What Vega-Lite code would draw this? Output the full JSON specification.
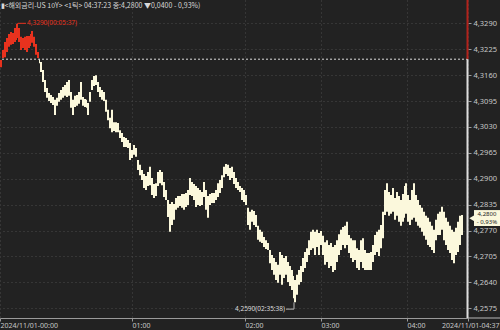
{
  "$schema": "https://vega.github.io/schema/vega-lite/v6.json",
  "width": 468,
  "height": 318,
  "autosize": "none",
  "padding": {"left": 0, "top": 0, "right": 32, "bottom": 12},
  "background": "#222222",
  "config": {
    "view": {"stroke": null},
    "font": "Noto Sans CJK KR",
    "text": {"font": "Noto Sans CJK KR"},
    "axis": {"labelOverlap": false}
  },
  "title": {
    "text": "▮<해외금리-US 10Y> <1틱> 04:37:23 종:4,2800 ▼0,0400  - 0,93%)",
    "anchor": "start",
    "orient": "top",
    "offset": 0,
    "dy": 10,
    "dx": 1,
    "fontSize": 7,
    "fontWeight": "normal",
    "color": "#d8d8d8",
    "font": "Noto Sans CJK KR"
  },
  "datasets": {
    "band": [
      {"n":0,"hi":4.3198,"lo":4.3180,"side":"up"},
      {"n":2,"hi":4.3223,"lo":4.3203,"side":"up"},
      {"n":4,"hi":4.3243,"lo":4.3205,"side":"up"},
      {"n":6,"hi":4.3253,"lo":4.3218,"side":"up"},
      {"n":8,"hi":4.3263,"lo":4.3231,"side":"up"},
      {"n":10,"hi":4.3268,"lo":4.3236,"side":"up"},
      {"n":12,"hi":4.3266,"lo":4.3238,"side":"up"},
      {"n":14,"hi":4.3278,"lo":4.3243,"side":"up"},
      {"n":16,"hi":4.3288,"lo":4.3248,"side":"up"},
      {"n":17,"hi":4.3290,"lo":4.3253,"side":"up"},
      {"n":18,"hi":4.3278,"lo":4.3243,"side":"up"},
      {"n":20,"hi":4.3256,"lo":4.3223,"side":"up"},
      {"n":22,"hi":4.3253,"lo":4.3228,"side":"up"},
      {"n":24,"hi":4.3256,"lo":4.3223,"side":"up"},
      {"n":26,"hi":4.3258,"lo":4.3218,"side":"up"},
      {"n":28,"hi":4.3258,"lo":4.3228,"side":"up"},
      {"n":30,"hi":4.3263,"lo":4.3233,"side":"up"},
      {"n":31,"hi":4.3271,"lo":4.3241,"side":"up"},
      {"n":33,"hi":4.3256,"lo":4.3231,"side":"up"},
      {"n":35,"hi":4.3238,"lo":4.3211,"side":"up"},
      {"n":37,"hi":4.3218,"lo":4.3203,"side":"up"},
      {"n":39,"hi":4.3206,"lo":4.3200,"side":"up"},
      {"n":39,"hi":4.3200,"lo":4.3190,"side":"down"},
      {"n":40,"hi":4.3193,"lo":4.3168,"side":"down"},
      {"n":42,"hi":4.3173,"lo":4.3143,"side":"down"},
      {"n":44,"hi":4.3148,"lo":4.3118,"side":"down"},
      {"n":46,"hi":4.3128,"lo":4.3103,"side":"down"},
      {"n":48,"hi":4.3115,"lo":4.3095,"side":"down"},
      {"n":50,"hi":4.3110,"lo":4.3090,"side":"down"},
      {"n":52,"hi":4.3105,"lo":4.3085,"side":"down"},
      {"n":54,"hi":4.3098,"lo":4.3060,"side":"down"},
      {"n":56,"hi":4.3103,"lo":4.3083,"side":"down"},
      {"n":58,"hi":4.3115,"lo":4.3093,"side":"down"},
      {"n":60,"hi":4.3123,"lo":4.3098,"side":"down"},
      {"n":62,"hi":4.3130,"lo":4.3103,"side":"down"},
      {"n":64,"hi":4.3135,"lo":4.3108,"side":"down"},
      {"n":66,"hi":4.3143,"lo":4.3105,"side":"down"},
      {"n":68,"hi":4.3148,"lo":4.3108,"side":"down"},
      {"n":70,"hi":4.3118,"lo":4.3078,"side":"down"},
      {"n":72,"hi":4.3098,"lo":4.3060,"side":"down"},
      {"n":74,"hi":4.3108,"lo":4.3080,"side":"down"},
      {"n":76,"hi":4.3110,"lo":4.3083,"side":"down"},
      {"n":78,"hi":4.3118,"lo":4.3088,"side":"down"},
      {"n":80,"hi":4.3143,"lo":4.3098,"side":"down"},
      {"n":82,"hi":4.3105,"lo":4.3083,"side":"down"},
      {"n":84,"hi":4.3100,"lo":4.3080,"side":"down"},
      {"n":86,"hi":4.3098,"lo":4.3078,"side":"down"},
      {"n":87,"hi":4.3090,"lo":4.3060,"side":"down"},
      {"n":89,"hi":4.3118,"lo":4.3093,"side":"down"},
      {"n":91,"hi":4.3148,"lo":4.3123,"side":"down"},
      {"n":93,"hi":4.3158,"lo":4.3133,"side":"down"},
      {"n":95,"hi":4.3160,"lo":4.3135,"side":"down"},
      {"n":97,"hi":4.3143,"lo":4.3118,"side":"down"},
      {"n":99,"hi":4.3130,"lo":4.3105,"side":"down"},
      {"n":101,"hi":4.3123,"lo":4.3098,"side":"down"},
      {"n":103,"hi":4.3118,"lo":4.3095,"side":"down"},
      {"n":105,"hi":4.3098,"lo":4.3068,"side":"down"},
      {"n":107,"hi":4.3073,"lo":4.3047,"side":"down"},
      {"n":109,"hi":4.3053,"lo":4.3027,"side":"down"},
      {"n":111,"hi":4.3073,"lo":4.3017,"side":"down"},
      {"n":113,"hi":4.3042,"lo":4.3020,"side":"down"},
      {"n":115,"hi":4.3042,"lo":4.3017,"side":"down"},
      {"n":117,"hi":4.3040,"lo":4.3017,"side":"down"},
      {"n":119,"hi":4.3022,"lo":4.3002,"side":"down"},
      {"n":121,"hi":4.3015,"lo":4.2992,"side":"down"},
      {"n":123,"hi":4.3005,"lo":4.2980,"side":"down"},
      {"n":125,"hi":4.3002,"lo":4.2980,"side":"down"},
      {"n":127,"hi":4.2997,"lo":4.2977,"side":"down"},
      {"n":129,"hi":4.2990,"lo":4.2947,"side":"down"},
      {"n":131,"hi":4.2972,"lo":4.2952,"side":"down"},
      {"n":133,"hi":4.2985,"lo":4.2960,"side":"down"},
      {"n":135,"hi":4.2977,"lo":4.2955,"side":"down"},
      {"n":137,"hi":4.2947,"lo":4.2922,"side":"down"},
      {"n":139,"hi":4.2935,"lo":4.2909,"side":"down"},
      {"n":141,"hi":4.2922,"lo":4.2897,"side":"down"},
      {"n":143,"hi":4.2912,"lo":4.2877,"side":"down"},
      {"n":145,"hi":4.2907,"lo":4.2872,"side":"down"},
      {"n":147,"hi":4.2917,"lo":4.2882,"side":"down"},
      {"n":149,"hi":4.2930,"lo":4.2884,"side":"down"},
      {"n":151,"hi":4.2902,"lo":4.2859,"side":"down"},
      {"n":153,"hi":4.2887,"lo":4.2852,"side":"down"},
      {"n":155,"hi":4.2889,"lo":4.2857,"side":"down"},
      {"n":157,"hi":4.2917,"lo":4.2882,"side":"down"},
      {"n":159,"hi":4.2922,"lo":4.2889,"side":"down"},
      {"n":161,"hi":4.2917,"lo":4.2884,"side":"down"},
      {"n":163,"hi":4.2892,"lo":4.2854,"side":"down"},
      {"n":165,"hi":4.2872,"lo":4.2847,"side":"down"},
      {"n":167,"hi":4.2847,"lo":4.2804,"side":"down"},
      {"n":169,"hi":4.2837,"lo":4.2767,"side":"down"},
      {"n":171,"hi":4.2842,"lo":4.2784,"side":"down"},
      {"n":173,"hi":4.2837,"lo":4.2797,"side":"down"},
      {"n":175,"hi":4.2852,"lo":4.2822,"side":"down"},
      {"n":177,"hi":4.2857,"lo":4.2827,"side":"down"},
      {"n":179,"hi":4.2857,"lo":4.2832,"side":"down"},
      {"n":181,"hi":4.2862,"lo":4.2827,"side":"down"},
      {"n":183,"hi":4.2862,"lo":4.2822,"side":"down"},
      {"n":185,"hi":4.2864,"lo":4.2829,"side":"down"},
      {"n":187,"hi":4.2872,"lo":4.2834,"side":"down"},
      {"n":189,"hi":4.2902,"lo":4.2859,"side":"down"},
      {"n":191,"hi":4.2892,"lo":4.2857,"side":"down"},
      {"n":193,"hi":4.2887,"lo":4.2847,"side":"down"},
      {"n":195,"hi":4.2882,"lo":4.2829,"side":"down"},
      {"n":197,"hi":4.2877,"lo":4.2834,"side":"down"},
      {"n":199,"hi":4.2872,"lo":4.2832,"side":"down"},
      {"n":201,"hi":4.2867,"lo":4.2834,"side":"down"},
      {"n":203,"hi":4.2892,"lo":4.2854,"side":"down"},
      {"n":205,"hi":4.2872,"lo":4.2822,"side":"down"},
      {"n":207,"hi":4.2857,"lo":4.2802,"side":"down"},
      {"n":209,"hi":4.2862,"lo":4.2834,"side":"down"},
      {"n":211,"hi":4.2864,"lo":4.2839,"side":"down"},
      {"n":213,"hi":4.2864,"lo":4.2839,"side":"down"},
      {"n":215,"hi":4.2872,"lo":4.2847,"side":"down"},
      {"n":217,"hi":4.2889,"lo":4.2854,"side":"down"},
      {"n":219,"hi":4.2897,"lo":4.2864,"side":"down"},
      {"n":221,"hi":4.2909,"lo":4.2877,"side":"down"},
      {"n":223,"hi":4.2930,"lo":4.2904,"side":"down"},
      {"n":225,"hi":4.2937,"lo":4.2912,"side":"down"},
      {"n":227,"hi":4.2935,"lo":4.2907,"side":"down"},
      {"n":229,"hi":4.2927,"lo":4.2897,"side":"down"},
      {"n":231,"hi":4.2930,"lo":4.2902,"side":"down"},
      {"n":233,"hi":4.2917,"lo":4.2887,"side":"down"},
      {"n":235,"hi":4.2902,"lo":4.2877,"side":"down"},
      {"n":237,"hi":4.2892,"lo":4.2872,"side":"down"},
      {"n":239,"hi":4.2882,"lo":4.2867,"side":"down"},
      {"n":241,"hi":4.2877,"lo":4.2847,"side":"down"},
      {"n":243,"hi":4.2872,"lo":4.2842,"side":"down"},
      {"n":245,"hi":4.2859,"lo":4.2834,"side":"down"},
      {"n":247,"hi":4.2827,"lo":4.2784,"side":"down"},
      {"n":249,"hi":4.2817,"lo":4.2772,"side":"down"},
      {"n":251,"hi":4.2822,"lo":4.2792,"side":"down"},
      {"n":253,"hi":4.2819,"lo":4.2784,"side":"down"},
      {"n":255,"hi":4.2809,"lo":4.2779,"side":"down"},
      {"n":257,"hi":4.2782,"lo":4.2747,"side":"down"},
      {"n":259,"hi":4.2772,"lo":4.2742,"side":"down"},
      {"n":261,"hi":4.2767,"lo":4.2739,"side":"down"},
      {"n":263,"hi":4.2754,"lo":4.2729,"side":"down"},
      {"n":265,"hi":4.2746,"lo":4.2724,"side":"down"},
      {"n":267,"hi":4.2739,"lo":4.2721,"side":"down"},
      {"n":269,"hi":4.2721,"lo":4.2688,"side":"down"},
      {"n":271,"hi":4.2709,"lo":4.2671,"side":"down"},
      {"n":273,"hi":4.2701,"lo":4.2659,"side":"down"},
      {"n":275,"hi":4.2691,"lo":4.2646,"side":"down"},
      {"n":277,"hi":4.2684,"lo":4.2639,"side":"down"},
      {"n":279,"hi":4.2716,"lo":4.2659,"side":"down"},
      {"n":281,"hi":4.2709,"lo":4.2634,"side":"down"},
      {"n":283,"hi":4.2701,"lo":4.2651,"side":"down"},
      {"n":285,"hi":4.2706,"lo":4.2659,"side":"down"},
      {"n":287,"hi":4.2691,"lo":4.2641,"side":"down"},
      {"n":289,"hi":4.2681,"lo":4.2631,"side":"down"},
      {"n":291,"hi":4.2671,"lo":4.2621,"side":"down"},
      {"n":293,"hi":4.2656,"lo":4.2600,"side":"down"},
      {"n":294,"hi":4.2646,"lo":4.2590,"side":"down"},
      {"n":296,"hi":4.2659,"lo":4.2609,"side":"down"},
      {"n":298,"hi":4.2671,"lo":4.2634,"side":"down"},
      {"n":300,"hi":4.2681,"lo":4.2641,"side":"down"},
      {"n":302,"hi":4.2701,"lo":4.2666,"side":"down"},
      {"n":304,"hi":4.2716,"lo":4.2676,"side":"down"},
      {"n":306,"hi":4.2726,"lo":4.2691,"side":"down"},
      {"n":308,"hi":4.2746,"lo":4.2709,"side":"down"},
      {"n":310,"hi":4.2767,"lo":4.2721,"side":"down"},
      {"n":312,"hi":4.2772,"lo":4.2726,"side":"down"},
      {"n":314,"hi":4.2767,"lo":4.2709,"side":"down"},
      {"n":316,"hi":4.2772,"lo":4.2729,"side":"down"},
      {"n":318,"hi":4.2764,"lo":4.2709,"side":"down"},
      {"n":320,"hi":4.2769,"lo":4.2734,"side":"down"},
      {"n":322,"hi":4.2757,"lo":4.2709,"side":"down"},
      {"n":324,"hi":4.2741,"lo":4.2684,"side":"down"},
      {"n":326,"hi":4.2746,"lo":4.2691,"side":"down"},
      {"n":328,"hi":4.2734,"lo":4.2676,"side":"down"},
      {"n":330,"hi":4.2739,"lo":4.2681,"side":"down"},
      {"n":332,"hi":4.2729,"lo":4.2666,"side":"down"},
      {"n":334,"hi":4.2734,"lo":4.2671,"side":"down"},
      {"n":336,"hi":4.2746,"lo":4.2691,"side":"down"},
      {"n":338,"hi":4.2761,"lo":4.2709,"side":"down"},
      {"n":340,"hi":4.2772,"lo":4.2721,"side":"down"},
      {"n":342,"hi":4.2779,"lo":4.2734,"side":"down"},
      {"n":344,"hi":4.2782,"lo":4.2726,"side":"down"},
      {"n":346,"hi":4.2792,"lo":4.2734,"side":"down"},
      {"n":348,"hi":4.2759,"lo":4.2714,"side":"down"},
      {"n":350,"hi":4.2751,"lo":4.2701,"side":"down"},
      {"n":352,"hi":4.2746,"lo":4.2691,"side":"down"},
      {"n":354,"hi":4.2746,"lo":4.2696,"side":"down"},
      {"n":356,"hi":4.2726,"lo":4.2676,"side":"down"},
      {"n":358,"hi":4.2721,"lo":4.2671,"side":"down"},
      {"n":360,"hi":4.2746,"lo":4.2691,"side":"down"},
      {"n":362,"hi":4.2751,"lo":4.2676,"side":"down"},
      {"n":364,"hi":4.2721,"lo":4.2671,"side":"down"},
      {"n":366,"hi":4.2714,"lo":4.2671,"side":"down"},
      {"n":368,"hi":4.2714,"lo":4.2671,"side":"down"},
      {"n":370,"hi":4.2716,"lo":4.2671,"side":"down"},
      {"n":372,"hi":4.2734,"lo":4.2691,"side":"down"},
      {"n":374,"hi":4.2759,"lo":4.2709,"side":"down"},
      {"n":376,"hi":4.2767,"lo":4.2716,"side":"down"},
      {"n":378,"hi":4.2772,"lo":4.2706,"side":"down"},
      {"n":380,"hi":4.2784,"lo":4.2726,"side":"down"},
      {"n":382,"hi":4.2817,"lo":4.2751,"side":"down"},
      {"n":384,"hi":4.2872,"lo":4.2809,"side":"down"},
      {"n":386,"hi":4.2889,"lo":4.2817,"side":"down"},
      {"n":388,"hi":4.2867,"lo":4.2807,"side":"down"},
      {"n":390,"hi":4.2859,"lo":4.2812,"side":"down"},
      {"n":392,"hi":4.2877,"lo":4.2817,"side":"down"},
      {"n":394,"hi":4.2852,"lo":4.2797,"side":"down"},
      {"n":396,"hi":4.2867,"lo":4.2807,"side":"down"},
      {"n":398,"hi":4.2857,"lo":4.2792,"side":"down"},
      {"n":400,"hi":4.2847,"lo":4.2782,"side":"down"},
      {"n":402,"hi":4.2862,"lo":4.2792,"side":"down"},
      {"n":404,"hi":4.2882,"lo":4.2802,"side":"down"},
      {"n":405,"hi":4.2889,"lo":4.2812,"side":"down"},
      {"n":407,"hi":4.2859,"lo":4.2792,"side":"down"},
      {"n":409,"hi":4.2847,"lo":4.2784,"side":"down"},
      {"n":411,"hi":4.2872,"lo":4.2797,"side":"down"},
      {"n":413,"hi":4.2889,"lo":4.2802,"side":"down"},
      {"n":415,"hi":4.2859,"lo":4.2792,"side":"down"},
      {"n":417,"hi":4.2847,"lo":4.2782,"side":"down"},
      {"n":419,"hi":4.2834,"lo":4.2777,"side":"down"},
      {"n":421,"hi":4.2827,"lo":4.2767,"side":"down"},
      {"n":423,"hi":4.2817,"lo":4.2757,"side":"down"},
      {"n":425,"hi":4.2807,"lo":4.2747,"side":"down"},
      {"n":427,"hi":4.2802,"lo":4.2734,"side":"down"},
      {"n":429,"hi":4.2792,"lo":4.2729,"side":"down"},
      {"n":431,"hi":4.2782,"lo":4.2721,"side":"down"},
      {"n":433,"hi":4.2772,"lo":4.2714,"side":"down"},
      {"n":435,"hi":4.2797,"lo":4.2746,"side":"down"},
      {"n":437,"hi":4.2812,"lo":4.2759,"side":"down"},
      {"n":439,"hi":4.2817,"lo":4.2759,"side":"down"},
      {"n":441,"hi":4.2830,"lo":4.2772,"side":"down"},
      {"n":443,"hi":4.2817,"lo":4.2746,"side":"down"},
      {"n":445,"hi":4.2802,"lo":4.2734,"side":"down"},
      {"n":447,"hi":4.2792,"lo":4.2721,"side":"down"},
      {"n":449,"hi":4.2782,"lo":4.2714,"side":"down"},
      {"n":451,"hi":4.2772,"lo":4.2696,"side":"down"},
      {"n":453,"hi":4.2767,"lo":4.2688,"side":"down"},
      {"n":455,"hi":4.2777,"lo":4.2709,"side":"down"},
      {"n":457,"hi":4.2792,"lo":4.2716,"side":"down"},
      {"n":459,"hi":4.2807,"lo":4.2734,"side":"down"},
      {"n":461,"hi":4.2809,"lo":4.2759,"side":"down"},
      {"n":463,"hi":4.2812,"lo":4.2782,"side":"down"}
    ],
    "edge": [
      {"n":467.5,"a":4.33485,"b":4.3200,"side":"up"},
      {"n":467.5,"a":4.3200,"b":4.25507,"side":"down"}
    ],
    "leaders": [
      {"n1":18,"n2":26,"v1":4.3290,"v2":4.3290,"kind":"max"},
      {"n1":286,"n2":294,"v1":4.2573,"v2":4.2573,"kind":"min"},
      {"n1":294,"n2":294,"v1":4.2573,"v2":4.2590,"kind":"min"},
      {"n1":468,"n2":500,"v1":4.25507,"v2":4.25507,"kind":"base"}
    ]
  },
  "layer": [
    {
      "data": {"name": "band"},
      "mark": {"type": "area", "interpolate": "step-after"},
      "encoding": {
        "x": {
          "field": "n", "type": "quantitative",
          "scale": {"domain": [0, 468], "nice": false, "zero": false},
          "axis": {
            "values": [0, 132, 245, 321, 407, 468],
            "tickCount": 20,
            "labelExpr": "datum.value == 0 ? '2024/11/01-00:00' : datum.value == 132 ? '01:00' : datum.value == 245 ? '02:00' : datum.value == 321 ? '03:00' : datum.value == 407 ? '04:00' : '2024/11/01-04:37'",
            "title": null,
            "labelAlign": {"condition": {"test": "datum.value == 468", "value": "right"}, "value": "left"},
            "labelOffset": {"condition": {"test": "datum.value == 468", "value": 31}, "value": 0},
            "labelFont": "Noto Sans",
            "labelFontSize": 7,
            "labelColor": "#c8c8c8",
            "labelPadding": 0,
            "labelBaseline": "top",
            "labelOverlap": false,
            "labelFlush": false,
            "labelBound": false,
            "tickSize": 3,
            "tickColor": "#9a9a9a",
            "domainColor": "#9a9a9a",
            "grid": true,
            "gridColor": "#4a4a4a",
            "gridDash": [1, 3]
          }
        },
        "y": {
          "field": "hi", "type": "quantitative",
          "stack": null,
          "scale": {"domain": [4.25507, 4.33485], "nice": false, "zero": false},
          "axis": {
            "orient": "right",
            "values": [4.2575, 4.264, 4.2705, 4.277, 4.2835, 4.29, 4.2965, 4.303, 4.3095, 4.316, 4.3225, 4.329],
            "tickCount": 30,
            "labelExpr": "replace(format(datum.value, '.4f'), '.', ',')",
            "title": null,
            "domain": false,
            "labelFont": "Noto Sans",
            "labelFontSize": 7.5,
            "labelColor": "#c8c8c8",
            "labelPadding": 2,
            "labelOverlap": false,
            "labelBound": false,
            "labelFlush": false,
            "tickSize": 3,
            "tickColor": "#9a9a9a",
            "grid": true,
            "gridColor": "#4a4a4a",
            "gridDash": [1, 3]
          }
        },
        "y2": {"field": "lo"},
        "color": {
          "field": "side", "type": "nominal",
          "scale": {"domain": ["up", "down"], "range": ["#e8321e", "#fbf8dc"]},
          "legend": null
        }
      }
    },
    {
      "data": {"values": [{"v": 4.32}]},
      "mark": {"type": "rule", "color": "#dcdcdc", "strokeDash": [2, 2], "strokeWidth": 1},
      "encoding": {"y": {"field": "v", "type": "quantitative"}}
    },
    {
      "data": {"name": "edge"},
      "mark": {"type": "rule", "strokeWidth": 2},
      "encoding": {
        "x": {"field": "n", "type": "quantitative"},
        "y": {"field": "a", "type": "quantitative"},
        "y2": {"field": "b"},
        "color": {"condition": {"test": "datum.side == 'up'", "value": "#b3231c"}, "value": "#dedede"}
      }
    },
    {
      "data": {"name": "leaders"},
      "mark": {"type": "rule", "strokeWidth": 1},
      "encoding": {
        "x": {"field": "n1", "type": "quantitative"},
        "x2": {"field": "n2"},
        "y": {"field": "v1", "type": "quantitative"},
        "y2": {"field": "v2"},
        "color": {"condition": {"test": "datum.kind == 'max'", "value": "#e8321e"}, "value": "#b8b8b8"}
      }
    },
    {
      "data": {"values": [{"n": 27, "v": 4.3290, "label": "4,3290(00:05:37)"}]},
      "mark": {"type": "text", "align": "left", "baseline": "middle", "fontSize": 6.5, "font": "Noto Sans", "color": "#e8321e"},
      "encoding": {
        "x": {"field": "n", "type": "quantitative"},
        "y": {"field": "v", "type": "quantitative"},
        "text": {"field": "label"}
      }
    },
    {
      "data": {"values": [{"n": 285, "v": 4.2573, "label": "4,2590(02:35:38)"}]},
      "mark": {"type": "text", "align": "right", "baseline": "middle", "fontSize": 6.5, "font": "Noto Sans", "color": "#dddddd"},
      "encoding": {
        "x": {"field": "n", "type": "quantitative"},
        "y": {"field": "v", "type": "quantitative"},
        "text": {"field": "label"}
      }
    },
    {
      "data": {"values": [{"n1": 474, "n2": 500, "v1": 4.28215, "v2": 4.27815}]},
      "mark": {"type": "rect", "color": "#fbf8dc"},
      "encoding": {
        "x": {"field": "n1", "type": "quantitative"},
        "x2": {"field": "n2"},
        "y": {"field": "v1", "type": "quantitative"},
        "y2": {"field": "v2"}
      }
    },
    {
      "data": {"values": [{"n": 472, "v": 4.2801}]},
      "mark": {"type": "point", "shape": "triangle-left", "filled": true, "opacity": 1, "size": 40, "color": "#fbf8dc"},
      "encoding": {
        "x": {"field": "n", "type": "quantitative"},
        "y": {"field": "v", "type": "quantitative"}
      }
    },
    {
      "data": {"values": [{"n": 487, "v": 4.28115, "label": "4,2800"}, {"n": 487, "v": 4.27915, "label": "- 0,93%"}]},
      "mark": {"type": "text", "align": "center", "baseline": "middle", "fontSize": 6, "font": "Noto Sans", "color": "#222222"},
      "encoding": {
        "x": {"field": "n", "type": "quantitative"},
        "y": {"field": "v", "type": "quantitative"},
        "text": {"field": "label"}
      }
    }
  ]
}
